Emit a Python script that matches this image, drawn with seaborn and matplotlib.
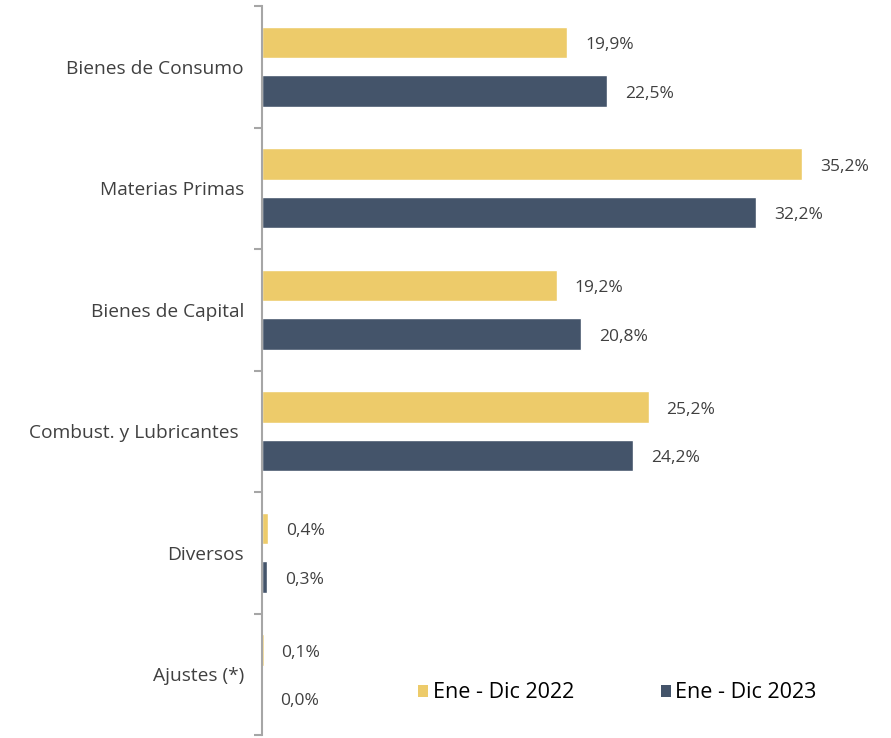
import matplotlib
matplotlib.use("Agg")
import matplotlib.pyplot as plt
import seaborn as sns
import pandas as pd
from matplotlib.patches import Patch

categories = ["Bienes de Consumo", "Materias Primas", "Bienes de Capital",
              "Combust. y Lubricantes ", "Diversos", "Ajustes (*)"]
series_names = ["Ene - Dic 2022", "Ene - Dic 2023"]
values_2022 = [19.9, 35.2, 19.2, 25.2, 0.4, 0.1]
values_2023 = [22.5, 32.2, 20.8, 24.2, 0.3, 0.0]
colors = ["#EDCB6A", "#44546A"]

df = pd.DataFrame({
    "cat": categories * 2,
    "serie": [series_names[0]] * len(categories) + [series_names[1]] * len(categories),
    "val": values_2022 + values_2023,
})

sns.set_theme(style="white")
plt.rcParams["font.family"] = ["Open Sans", "DejaVu Sans"]

fig = plt.figure(figsize=(8.91, 7.38), dpi=100)
ax = fig.add_axes([262 / 891, 1 - 735 / 738, (872 - 262) / 891, (735 - 6) / 738])

sns.barplot(data=df, y="cat", x="val", hue="serie", orient="h",
            palette=colors, gap=0.35, width=0.8, ax=ax, legend=False,
            order=categories, hue_order=series_names, saturation=1)

for cont in ax.containers:
    lbls = ax.bar_label(cont, labels=[f"{v:.1f}%".replace(".", ",") for v in cont.datavalues],
                        padding=13, fontsize=12.5, color="#404040")
    for t in lbls:
        t.xyann = (13, -2)

ax.set_xlim(0, (872 - 262) / 15.34)
ax.set_ylim(len(categories) - 0.5, -0.5)
ax.set_xlabel("")
ax.set_ylabel("")
ax.set_xticks([])
ax.tick_params(axis="y", which="major", left=False, length=0, pad=13, labelsize=13.8, labelcolor="#404040")
ax.set_yticks([i - 0.5 for i in range(len(categories) + 1)], minor=True)
ax.tick_params(axis="y", which="minor", left=True, length=6, width=1.5, color="#A6A6A6", direction="out")
for s in ["top", "right", "bottom"]:
    ax.spines[s].set_visible(False)
ax.spines["left"].set_color("#A6A6A6")
ax.spines["left"].set_linewidth(1.5)

handles = [Patch(facecolor=c, edgecolor="none") for c in colors]
fig.legend(handles, series_names, loc="center left", bbox_to_anchor=(399 / 891, 1 - 693 / 738),
           ncol=2, frameon=False, fontsize=15.5, handlelength=0.47, handleheight=0.47,
           handletextpad=0.22, columnspacing=4.0, labelcolor="#000000")

fig.savefig("out.png", dpi=100)
